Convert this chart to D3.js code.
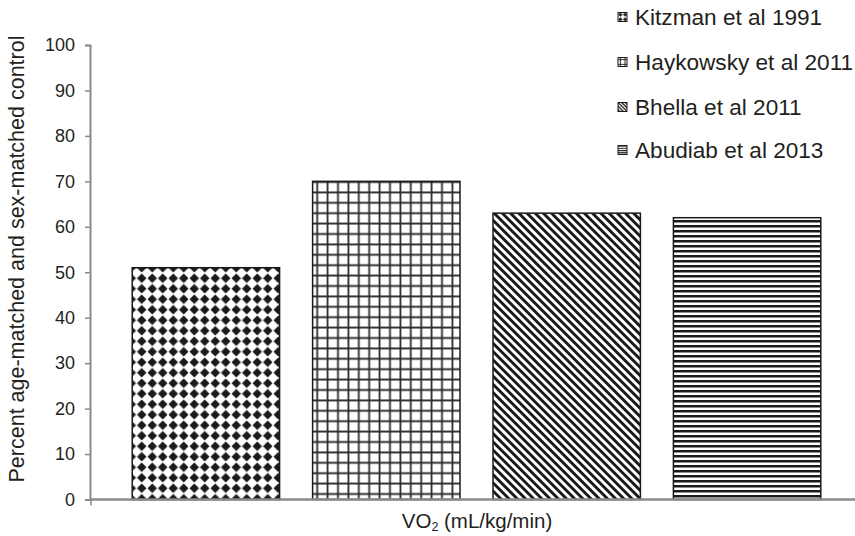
<!DOCTYPE html>
<html><head><meta charset="utf-8">
<script src="https://cdn.jsdelivr.net/npm/d3@7"></script>
<style>body{margin:0;background:#fff}svg{display:block}text{font-family:"Liberation Sans",Arial,sans-serif;fill:#231f20}</style>
</head><body><div id="chart"></div>
<script>
const studies = ["Kitzman et al 1991","Haykowsky et al 2011","Bhella et al 2011","Abudiab et al 2013"];
const values = [51, 70, 63, 62];
const yTicks = [0,10,20,30,40,50,60,70,80,90,100];
const yTitle = "Percent age-matched and sex-matched control";
const patterns = ["diamond","grid","diag","hlines"];

const W = 855, H = 536;
const svg = d3.select("#chart").append("svg").attr("width", W).attr("height", H);
const defs = svg.append("defs");

function makePattern(id, type, s) {
  let p;
  if (type === "diamond") {
    const w = 10.5*s;
    p = defs.append("pattern").attr("id", id).attr("patternUnits","userSpaceOnUse").attr("width", w).attr("height", w);
    p.append("rect").attr("width", w).attr("height", w).attr("fill","#fff");
    const r = 4.8*s, c = w/2;
    p.append("path").attr("d", `M${c},${c-r}L${c+r},${c}L${c},${c+r}L${c-r},${c}Z`).attr("fill","#1a1a1a");
  } else if (type === "grid") {
    const w = 10.4*s;
    p = defs.append("pattern").attr("id", id).attr("patternUnits","userSpaceOnUse").attr("width", w).attr("height", w);
    p.append("rect").attr("width", w).attr("height", w).attr("fill","#fff");
    p.append("path").attr("d", `M${w/2},0V${w}M0,${w/2}H${w}`).attr("stroke","#2a2a2a").attr("stroke-width",1.8*Math.max(s,0.6));
  } else if (type === "diag") {
    const w = 5.8*s;
    p = defs.append("pattern").attr("id", id).attr("patternUnits","userSpaceOnUse").attr("width", w).attr("height", w).attr("patternTransform","rotate(-45)");
    p.append("rect").attr("width", w).attr("height", w).attr("fill","#fff");
    p.append("rect").attr("x", 0).attr("width", w*0.5).attr("height", w).attr("fill","#1a1a1a");
  } else {
    const w = 5*s;
    p = defs.append("pattern").attr("id", id).attr("patternUnits","userSpaceOnUse").attr("width", w).attr("height", w);
    p.append("rect").attr("width", w).attr("height", w).attr("fill","#fff");
    p.append("rect").attr("y", 0).attr("width", w).attr("height", w*0.5).attr("fill","#1a1a1a");
  }
}
patterns.forEach((t,i) => { makePattern("p"+i, t, 1); makePattern("lp"+i, t, 0.45); });

const y = d3.scaleLinear().domain([0,100]).range([499.5, 45]);
const x = d3.scaleBand().domain(studies).range([90, 863]).paddingInner(0.183).paddingOuter(0.234);

// bars
svg.selectAll("rect.bar").data(studies).join("rect").attr("class","bar")
  .attr("x", d => x(d)).attr("width", x.bandwidth())
  .attr("y", (d,i) => y(values[i])).attr("height", (d,i) => y(0) - y(values[i]))
  .attr("fill", (d,i) => `url(#p${i})`).attr("stroke","#1a1a1a").attr("stroke-width",1.5);

// y axis
const yAxis = svg.append("g").attr("transform","translate(90,0)")
  .call(d3.axisLeft(y).tickValues(yTicks).tickSize(5).tickPadding(10));
yAxis.select(".domain").attr("stroke","#8a8a8a").attr("stroke-width",2);
yAxis.selectAll(".tick line").attr("stroke","#8a8a8a").attr("stroke-width",1.5);
yAxis.selectAll(".tick text").attr("font-size",18).attr("fill","#231f20").attr("font-family","Liberation Sans, Arial, sans-serif");

// x axis line
svg.append("line").attr("x1",90).attr("x2",W).attr("y1",y(0)).attr("y2",y(0)).attr("stroke","#8a8a8a").attr("stroke-width",2.5);
svg.append("line").attr("x1",91).attr("x2",91).attr("y1",y(0)).attr("y2",y(0)+6).attr("stroke","#8a8a8a").attr("stroke-width",1.5);

// x title
const xt = svg.append("text").attr("x", 477).attr("y", 528).attr("text-anchor","middle").attr("font-size",20.5);
xt.append("tspan").text("VO");
xt.append("tspan").attr("font-size",12.5).attr("dy",3).text("2");
xt.append("tspan").attr("dy",-3).text(" (mL/kg/min)");

// y title
svg.append("text").attr("transform","translate(24,259) rotate(-90)").attr("text-anchor","middle").attr("font-size",21.5).text(yTitle);

// legend
const ly = [17, 62, 107, 150];
const lg = svg.selectAll("g.leg").data(studies).join("g").attr("class","leg")
  .attr("transform",(d,i) => `translate(618,${ly[i]})`);
lg.append("rect").attr("x",0).attr("y",-4.5).attr("width",9).attr("height",9)
  .attr("fill",(d,i)=>`url(#lp${i})`).attr("stroke","#1a1a1a").attr("stroke-width",1);
lg.append("text").attr("x",17).attr("y",8).attr("font-size",22.6).text(d => d);
</script></body></html>
